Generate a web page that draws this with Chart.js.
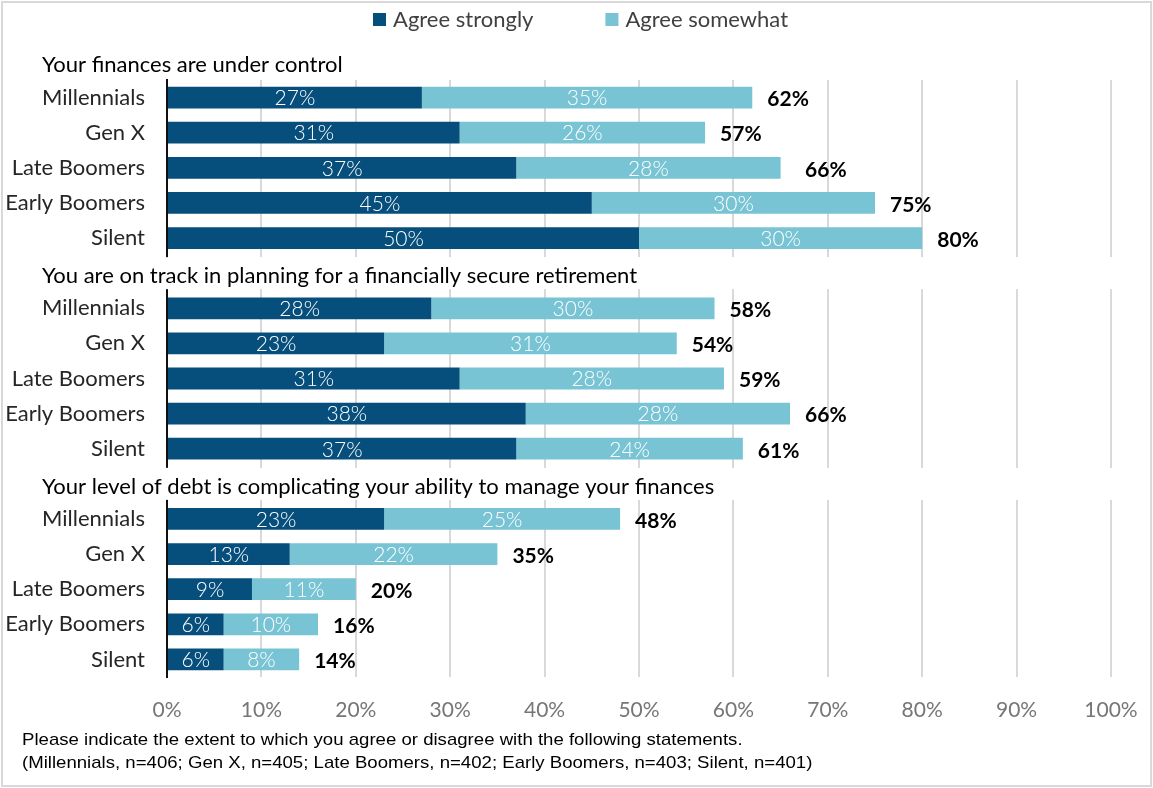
<!DOCTYPE html>
<html>
<head>
<meta charset="utf-8">
<script src="https://cdn.jsdelivr.net/npm/chart.js@4.4.1/dist/chart.umd.min.js"></script>
<style>
    body { margin: 0; background: #fff; }
    #wrap { position: relative; width: 1153px; height: 788px; }
    #wrap canvas { position: absolute; left: 0; top: 0; }
    #frame {
        position: absolute; left: 1px; top: 1px; width: 1151px; height: 786px;
        box-sizing: border-box; border: 2px solid #d9d9d9; pointer-events: none;
    }
</style>
</head>
<body>
<div id="wrap">
    <canvas id="barChart" width="1153" height="788"></canvas>
    <div id="frame"></div>
</div>
<script>
const seriesNames = ["Agree strongly", "Agree somewhat"];
const seriesColors = ["#064e7b", "#78c4d4"];

const statements = [
    "Your finances are under control",
    "You are on track in planning for a financially secure retirement",
    "Your level of debt is complicating your ability to manage your finances",
];
const generations = ["Millennials", "Gen X", "Late Boomers", "Early Boomers", "Silent"];

const financesStrong = [27, 31, 37, 45, 50];
const financesSomewhat = [35, 26, 28, 30, 30];
const financesTotal = [62, 57, 66, 75, 80];

const retirementStrong = [28, 23, 31, 38, 37];
const retirementSomewhat = [30, 31, 28, 28, 24];
const retirementTotal = [58, 54, 59, 66, 61];

const debtStrong = [23, 13, 9, 6, 6];
const debtSomewhat = [25, 22, 11, 10, 8];
const debtTotal = [48, 35, 20, 16, 14];

const footnotes = [
    "Please indicate the extent to which you agree or disagree with the following statements.",
    "(Millennials, n=406; Gen X, n=405; Late Boomers, n=402; Early Boomers, n=403; Silent, n=401)",
];

const FONT = "Lato";
Chart.defaults.font.family = FONT;

// one category row per generation, plus a blank row where each later statement heading goes
const groups = [
    { title: statements[0], strong: financesStrong, somewhat: financesSomewhat, total: financesTotal },
    { title: statements[1], strong: retirementStrong, somewhat: retirementSomewhat, total: retirementTotal },
    { title: statements[2], strong: debtStrong, somewhat: debtSomewhat, total: debtTotal },
];
const rowLabels = [];
const strongRows = [];
const somewhatRows = [];
const totalRows = [];
const headingRows = [];
groups.forEach((g, gi) => {
    if (gi > 0) {
        headingRows.push({ index: rowLabels.length, text: g.title });
        rowLabels.push("");
        strongRows.push(null);
        somewhatRows.push(null);
        totalRows.push(null);
    }
    generations.forEach((name, i) => {
        rowLabels.push(name);
        strongRows.push(g.strong[i]);
        somewhatRows.push(g.somewhat[i]);
        totalRows.push(g.total[i]);
    });
});

const headings = {
    id: "headings",
    beforeDatasetsDraw(chart) {
        const { ctx, chartArea, scales } = chart;
        ctx.save();
        ctx.fillStyle = "#fff";
        headingRows.forEach((row) => {
            const y = scales.y.getPixelForValue(row.index);
            ctx.fillRect(chartArea.left - 3, y - 16, chartArea.right - chartArea.left + 6, 32);
        });
        ctx.restore();
    },
    afterDatasetsDraw(chart) {
        const { ctx, chartArea, scales } = chart;
        ctx.save();
        ctx.font = "22px " + FONT;
        ctx.fillStyle = "#000";
        ctx.textAlign = "left";
        ctx.textBaseline = "middle";
        ctx.fillText(statements[0], 42, chartArea.top - 15);
        headingRows.forEach((row) => {
            ctx.fillText(row.text, 42, scales.y.getPixelForValue(row.index) + 3);
        });
        ctx.restore();
    },
};

const barLabels = {
    id: "barLabels",
    afterDatasetsDraw(chart) {
        const { ctx, scales } = chart;
        ctx.save();
        ctx.textBaseline = "middle";
        ctx.textAlign = "center";
        ctx.font = "300 21px " + FONT;
        ctx.fillStyle = "#fff";
        chart.data.datasets.forEach((ds, di) => {
            chart.getDatasetMeta(di).data.forEach((bar, i) => {
                if (ds.data[i] == null) return;
                ctx.fillText(ds.data[i] + "%", (bar.x + bar.base) / 2, bar.y + 1);
            });
        });
        ctx.textAlign = "left";
        ctx.font = "bold 21px " + FONT;
        ctx.fillStyle = "#000";
        totalRows.forEach((t, i) => {
            if (t == null) return;
            ctx.fillText(t + "%", scales.x.getPixelForValue(t) + 15, scales.y.getPixelForValue(i) + 2);
        });
        ctx.restore();
    },
};

const topLegend = {
    id: "topLegend",
    afterDraw(chart) {
        const { ctx } = chart;
        ctx.save();
        ctx.font = "22px " + FONT;
        ctx.textBaseline = "middle";
        ctx.textAlign = "left";
        const box = 13, gap = 7, spacing = 72;
        const widths = seriesNames.map((n) => box + gap + ctx.measureText(n).width);
        const total = widths.reduce((a, b) => a + b, 0) + spacing * (widths.length - 1);
        let x = chart.width / 2 - total / 2 + 4;
        seriesNames.forEach((name, i) => {
            ctx.fillStyle = seriesColors[i];
            ctx.fillRect(x, 13, box, box);
            ctx.fillStyle = "#404040";
            ctx.fillText(name, x + box + gap, 20);
            x += widths[i] + spacing;
        });
        ctx.restore();
    },
};

const notes = {
    id: "notes",
    afterDraw(chart) {
        const { ctx } = chart;
        ctx.save();
        ctx.font = "17px 'Liberation Sans'";
        ctx.fillStyle = "#000";
        ctx.textBaseline = "middle";
        ctx.translate(22, 0);
        ctx.scale(1.094, 1);
        footnotes.forEach((line, i) => ctx.fillText(line, 0, 740 + i * 23));
        ctx.restore();
    },
};

new Chart(document.getElementById("barChart"), {
    type: "bar",
    data: {
        labels: rowLabels,
        datasets: [
            {
                label: seriesNames[0],
                data: strongRows,
                backgroundColor: seriesColors[0],
                barPercentage: 0.62,
                categoryPercentage: 1,
            },
            {
                label: seriesNames[1],
                data: somewhatRows,
                backgroundColor: seriesColors[1],
                barPercentage: 0.62,
                categoryPercentage: 1,
            },
        ],
    },
    options: {
        indexAxis: "y",
        responsive: false,
        animation: false,
        devicePixelRatio: 1,
        layout: { padding: { top: 80, right: 42, bottom: 71, left: 0 } },
        plugins: {
            legend: { display: false },
            tooltip: { enabled: false },
        },
        scales: {
            x: {
                stacked: true,
                min: 0,
                max: 100,
                ticks: {
                    stepSize: 10,
                    padding: 21,
                    color: "#767676",
                    font: { size: 21 },
                    callback: (v) => v + "%",
                },
                grid: { color: "#d9d9d9", lineWidth: 2, drawTicks: false },
                border: { display: false },
                afterFit: (scale) => {
                    scale.height = 40;
                    scale.paddingLeft = 0;
                    scale.paddingRight = 0;
                },
            },
            y: {
                stacked: true,
                ticks: {
                    autoSkip: false,
                    padding: 22,
                    color: "#262626",
                    font: { size: 22 },
                },
                grid: { display: false, drawTicks: false },
                border: { color: "#111", width: 2 },
                afterFit: (scale) => { scale.width = 167; },
            },
        },
    },
    plugins: [headings, barLabels, topLegend, notes],
});
</script>
</body>
</html>
